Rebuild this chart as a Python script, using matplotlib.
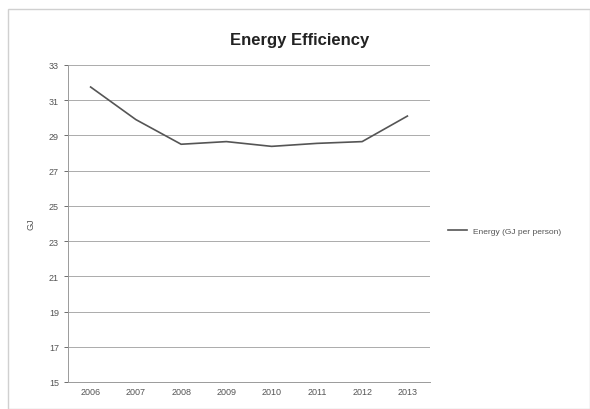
import matplotlib.pyplot as plt
from matplotlib.patches import Rectangle
import numpy as np

years = ['2006', '2007', '2008', '2009', '2010', '2011', '2012', '2013']
energy = [31.75, 29.9, 28.5, 28.65, 28.38, 28.55, 28.65, 30.1]
y_ticks = [15, 17, 19, 21, 23, 25, 27, 29, 31, 33]

plt.rcParams['font.family'] = ['Liberation Sans', 'DejaVu Sans']

fig = plt.figure(figsize=(5.9, 4.1), dpi=100)
fig.patches.append(Rectangle((8 / 590, 0.0), 1 - 8 / 590, 1 - 10 / 410, transform=fig.transFigure,
                             fill=False, edgecolor='#d0d0d0', linewidth=1.0))

ax = fig.add_axes([68 / 590, 27 / 410, 362 / 590, 317 / 410])
x = np.arange(len(years))
ax.plot(x, energy, color='#555555', linewidth=1.2, label='Energy (GJ per person)')

ax.set_xlim(-0.5, len(years) - 0.5)
ax.set_ylim(15, 33)
ax.set_yticks(y_ticks)
ax.set_xticks(x)
ax.set_xticklabels(years)
ax.tick_params(labelsize=6.5, colors='#555555', length=3, width=0.6)
ax.tick_params(axis='x', length=0)
ax.grid(axis='y', color='#ababab', linewidth=0.7)
ax.set_axisbelow(True)
for side in ['top', 'right']:
    ax.spines[side].set_visible(False)
for side in ['left', 'bottom']:
    ax.spines[side].set_color('#9a9a9a')
    ax.spines[side].set_linewidth(0.7)
ax.set_ylabel('GJ', fontsize=6.5, color='#555555', labelpad=10)

fig.text(300 / 590, 1 - 40 / 410, 'Energy Efficiency', ha='center', va='center',
         fontsize=12, fontweight='bold', color='#222222')

ax.legend(loc='center left', bbox_to_anchor=(1.03, 0.475), frameon=False,
          fontsize=6, handlelength=2.2, labelcolor='#555555')

fig.savefig('out.png', dpi=100)
